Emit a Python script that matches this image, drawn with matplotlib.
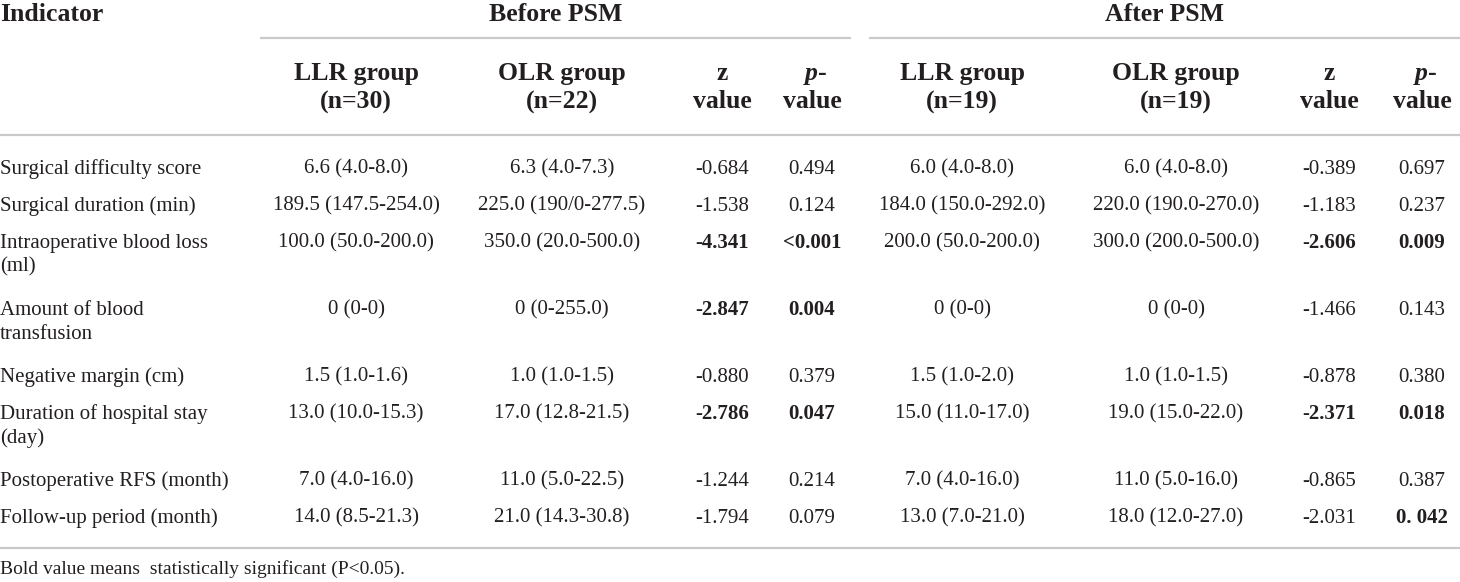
import matplotlib
matplotlib.use("Agg")
import matplotlib.pyplot as plt

# ---------------- data ----------------
indicators = ["Surgical difficulty score", "Surgical duration (min)",
              "Intraoperative blood loss\n(ml)", "Amount of blood\ntransfusion",
              "Negative margin (cm)", "Duration of hospital stay\n(day)",
              "Postoperative RFS (month)", "Follow-up period (month)"]

groups = ["Before PSM", "After PSM"]
sub_headers = [["LLR group\n(n=30)", "OLR group\n(n=22)", "z\nvalue", "p-\nvalue"],
               ["LLR group\n(n=19)", "OLR group\n(n=19)", "z\nvalue", "p-\nvalue"]]

before_llr = ["6.6 (4.0-8.0)", "189.5 (147.5-254.0)", "100.0 (50.0-200.0)", "0 (0-0)",
              "1.5 (1.0-1.6)", "13.0 (10.0-15.3)", "7.0 (4.0-16.0)", "14.0 (8.5-21.3)"]
before_olr = ["6.3 (4.0-7.3)", "225.0 (190/0-277.5)", "350.0 (20.0-500.0)", "0 (0-255.0)",
              "1.0 (1.0-1.5)", "17.0 (12.8-21.5)", "11.0 (5.0-22.5)", "21.0 (14.3-30.8)"]
before_z = ["-0.684", "-1.538", "-4.341", "-2.847", "-0.880", "-2.786", "-1.244", "-1.794"]
before_p = ["0.494", "0.124", "<0.001", "0.004", "0.379", "0.047", "0.214", "0.079"]
before_z_bold = [0, 0, 1, 1, 0, 1, 0, 0]
before_p_bold = [0, 0, 1, 1, 0, 1, 0, 0]

after_llr = ["6.0 (4.0-8.0)", "184.0 (150.0-292.0)", "200.0 (50.0-200.0)", "0 (0-0)",
             "1.5 (1.0-2.0)", "15.0 (11.0-17.0)", "7.0 (4.0-16.0)", "13.0 (7.0-21.0)"]
after_olr = ["6.0 (4.0-8.0)", "220.0 (190.0-270.0)", "300.0 (200.0-500.0)", "0 (0-0)",
             "1.0 (1.0-1.5)", "19.0 (15.0-22.0)", "11.0 (5.0-16.0)", "18.0 (12.0-27.0)"]
after_z = ["-0.389", "-1.183", "-2.606", "-1.466", "-0.878", "-2.371", "-0.865", "-2.031"]
after_p = ["0.697", "0.237", "0.009", "0.143", "0.380", "0.018", "0.387", "0. 042"]
after_z_bold = [0, 0, 1, 0, 0, 1, 0, 0]
after_p_bold = [0, 0, 1, 0, 0, 1, 0, 1]

footnote = "Bold value means  statistically significant (P<0.05)."

# ---------------- layout ----------------
W, H = 1460, 582
FONT = "Liberation Serif"
TXT = "#231f20"
RULE = "#c9c9c9"
BODY = 15
HEAD = 18.5

col_x = [[356, 562, 722, 812], [962, 1176, 1329, 1422]]
group_span = [(260, 851), (869, 1460)]

fig = plt.figure(figsize=(W / 100, H / 100), dpi=100)
ax = fig.add_axes([0, 0, 1, 1])
ax.set_xlim(0, W)
ax.set_ylim(H, 0)
ax.axis("off")


def put(x, y, s, ha="center", bold=False, size=BODY, gap=24, style="normal"):
    # y is the middle of the capitals; text sits on a baseline so digits and
    # letters line up the same way
    drop = size * 100 / 72 * 0.33
    for i, line in enumerate(s.split("\n")):
        ax.text(x, y + i * gap + drop, line, ha=ha, va="baseline", family=FONT,
                fontsize=size, fontweight="bold" if bold else "normal",
                style=style, color=TXT)


def rule(x0, x1, y):
    ax.plot([x0, x1], [y, y], color=RULE, lw=1.6, solid_capstyle="butt")


# header
put(0, 13, "Indicator", ha="left", bold=True, size=HEAD)
for g in range(2):
    x0, x1 = group_span[g]
    put((x0 + x1) / 2, 13, groups[g], bold=True, size=HEAD)
    rule(x0, x1, 38)
    for c, label in enumerate(sub_headers[g]):
        xc = col_x[g][c]
        if label.startswith("p-"):
            drop = HEAD * 100 / 72 * 0.33
            ax.text(xc + 6, 72 + drop, "p", ha="right", va="baseline", family=FONT,
                    fontsize=HEAD, fontweight="bold", style="italic", color=TXT)
            ax.text(xc + 6, 72 + drop, "-", ha="left", va="baseline", family=FONT,
                    fontsize=HEAD, fontweight="bold", color=TXT)
            put(xc, 100, "value", bold=True, size=HEAD)
        else:
            put(xc, 72, label, bold=True, size=HEAD, gap=28)
rule(0, W, 135)

# body rows
tables = [
    [before_llr, before_olr, before_z, before_p],
    [after_llr, after_olr, after_z, after_p],
]
bolds = [
    [None, None, before_z_bold, before_p_bold],
    [None, None, after_z_bold, after_p_bold],
]
y = 167
for r, name in enumerate(indicators):
    put(0, y, name, ha="left")
    for g in range(2):
        for c in range(4):
            b = bolds[g][c]
            put(col_x[g][c], y, tables[g][c][r], bold=bool(b[r]) if b else False)
    y += 37 + 30 * name.count("\n")

rule(0, W, 548)
put(0, 568, footnote, ha="left", size=14)

fig.savefig("out.png", dpi=100, facecolor="white")
